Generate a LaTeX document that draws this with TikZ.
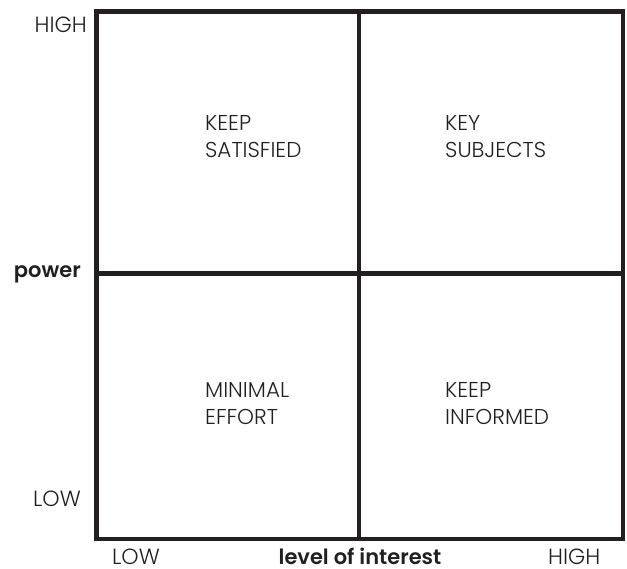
\documentclass[tikz,border=0pt]{standalone}
\usepackage{fontspec}
\setmainfont{Poppins}[UprightFont=* Light, BoldFont=* SemiBold]
\usetikzlibrary{positioning}
\definecolor{ink}{HTML}{231F20}

\begin{document}
\begin{tikzpicture}[x=1pt, y=-1pt,
  frame/.style={draw=ink, line width=4.5pt},
  quad/.style={anchor=north west, inner sep=0pt, align=left, text=ink,
               font=\fontsize{21.5}{27.5}\selectfont},
  tick/.style={inner sep=0pt, text=ink, font=\fontsize{22}{24}\selectfont},
  axis/.style={inner sep=0pt, text=ink, font=\bfseries\fontsize{21}{24}\selectfont}
]
  \useasboundingbox (0,0) rectangle (627,569);
  % grid
  \coordinate (nw) at (96.5,11.5);
  \coordinate (se) at (623,539);
  \coordinate (mid) at (359,273.5);
  \draw[frame] (nw) rectangle (se);
  \draw[frame] (mid |- nw) -- (mid |- se);
  \draw[frame] (mid -| nw) -- (mid -| se);

  % quadrants
  \node[quad] (satisfied) at (205,115) {KEEP\\SATISFIED};
  \node[quad] (subjects)  at (445,115) {KEY\\SUBJECTS};
  \node[quad] (minimal)   at (205,382) {MINIMAL\\EFFORT};
  \node[quad] (informed)  at (445,382) {KEEP\\INFORMED};

  % axes
  \node[tick, anchor=base east] (yhigh) at (87,33) {HIGH};
  \node[axis, anchor=base east] (power) at (81,278) {power};
  \node[tick, anchor=base east] (ylow)  at (81,506) {LOW};
  \node[tick, anchor=base west] (xlow)  at (112,564) {LOW};
  \node[axis, anchor=base] (interest)   at (360,564) {level of interest};
  \node[tick, anchor=base west] (xhigh) at (548,564) {HIGH};
\end{tikzpicture}
\end{document}
